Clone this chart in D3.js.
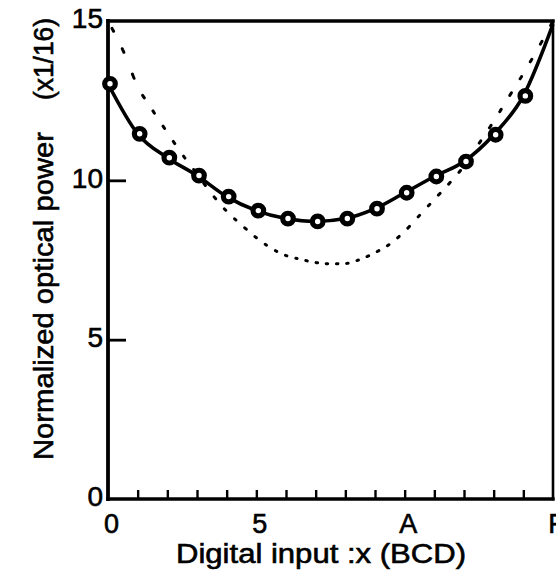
<!DOCTYPE html>
<html>
<head>
<meta charset="utf-8">
<script src="https://cdn.jsdelivr.net/npm/d3@7"></script>
<style>
  html, body { margin: 0; background: #fff; }
  svg { display: block; }
  text { font-family: "Liberation Sans", Arial, Helvetica, sans-serif; fill: #000; stroke: #000; stroke-width: 0.6px; }
</style>
</head>
<body>
<svg id="chart" width="556" height="571"></svg>
<script>
// Measured optical power (circles) for each digital input code 0..E
const inputCodes = [0, 1, 2, 3, 4, 5, 6, 7, 8, 9, 10, 11, 12, 13, 14];
const measuredPower = [13.03, 11.46, 10.71, 10.15, 9.49, 9.05, 8.80, 8.71, 8.80, 9.11, 9.61, 10.12, 10.59, 11.43, 12.65];

// Solid curve through the measurements, running up to code F
const fitCodes = [0, 1, 2, 3, 4, 5, 6, 7, 8, 9, 10, 11, 12, 13, 14, 15];
const fitPower = [13.03, 11.46, 10.71, 10.15, 9.49, 9.05, 8.80, 8.71, 8.80, 9.11, 9.61, 10.12, 10.59, 11.43, 12.65, 14.9];

// Dotted reference curve
const idealCodes = [0, 0.5, 1, 1.5, 2, 2.5, 3, 3.5, 4, 4.5, 5, 5.5, 6, 6.5, 7, 7.5, 8, 8.5, 9, 9.5, 10, 10.5, 11, 11.5, 12, 12.5, 13, 13.5, 14, 14.5, 15];
const idealPower = [15.0, 14.09, 12.95, 12.2, 11.5, 10.82, 10.2, 9.57, 9.03, 8.6, 8.2, 7.87, 7.64, 7.52, 7.42, 7.38, 7.39, 7.52, 7.73, 8.0, 8.4, 8.9, 9.4, 9.9, 10.45, 11.15, 11.85, 12.6, 13.35, 14.15, 15.0];

// Axis ticks
const xMinorTicks = [1, 2, 3, 4, 5, 6, 7, 8, 9, 10, 11, 12, 13, 14];
const xTickValues = [0, 5, 10, 15];
const xTickLabels = ["0", "5", "A", "F"];
const yMajorTicks = [5, 10];
const yTickValues = [0, 5, 10, 15];
const yTickLabels = ["0", "5", "10", "15"];

const xTitle = "Digital input :x (BCD)";
const yTitle = "Normalized optical power";
const yUnit = "(x1/16)";

const svg = d3.select("#chart");
const x = d3.scaleLinear().domain([0, 15]).range([108, 553]);
const y = d3.scaleLinear().domain([0, 15]).range([499, 21]);

// Inward tick marks
const gx = svg.append("g").attr("transform", `translate(0,${y(0)})`)
  .call(d3.axisBottom(x).tickValues(xMinorTicks).tickSize(-9).tickFormat(""));
gx.select(".domain").remove();
gx.selectAll(".tick line").attr("stroke", "#000").attr("stroke-width", 2.4);

const gy = svg.append("g").attr("transform", `translate(${x(0)},0)`)
  .call(d3.axisLeft(y).tickValues(yMajorTicks).tickSize(-18).tickFormat(""));
gy.select(".domain").remove();
gy.selectAll(".tick line").attr("stroke", "#000").attr("stroke-width", 2.8);

// Tick labels
const gxl = svg.append("g").attr("transform", `translate(3,${y(0) + 1})`)
  .call(d3.axisBottom(x).tickValues(xTickValues).tickSize(0).tickPadding(14)
    .tickFormat((d, i) => xTickLabels[i]));
gxl.select(".domain").remove();
gxl.selectAll("text").attr("font-size", 27).attr("font-family", null).attr("fill", null);

const gyl = svg.append("g").attr("transform", `translate(${x(0) - 5},-2)`)
  .call(d3.axisLeft(y).tickValues(yTickValues).tickSize(0).tickPadding(0)
    .tickFormat((d, i) => yTickLabels[i]));
gyl.select(".domain").remove();
gyl.selectAll("text").attr("font-size", 28).attr("font-family", null).attr("fill", null);

// Frame
const frame = svg.append("g").attr("stroke", "#000").attr("fill", "none").attr("stroke-linecap", "square");
frame.append("line").attr("x1", x(0)).attr("x2", x(15)).attr("y1", y(15)).attr("y2", y(15)).attr("stroke-width", 3.4);
frame.append("line").attr("x1", x(15)).attr("x2", x(15)).attr("y1", y(15)).attr("y2", y(0)).attr("stroke-width", 2.6);
frame.append("line").attr("x1", x(0)).attr("x2", x(15)).attr("y1", y(0)).attr("y2", y(0)).attr("stroke-width", 3.4);
frame.append("line").attr("x1", x(0)).attr("x2", x(0)).attr("y1", y(15)).attr("y2", y(0)).attr("stroke-width", 3.8);

// Dotted reference curve: dots spaced evenly along x, so they stretch into dashes where steep
const idealPts = idealCodes.map((c, i) => [c, idealPower[i]]);
const idealLine = d3.line().x(d => x(d[0])).y(d => y(d[1])).curve(d3.curveMonotoneX);
const guide = svg.append("path").attr("d", idealLine(idealPts)).attr("fill", "none").attr("stroke", "none");
const gnode = guide.node();
const total = gnode.getTotalLength();
const period = 10.2, onWidth = 1.7, phase0 = x(0) + 4.0;
const segs = [];
let cur = null;
for (let s = 0; s <= total; s += 0.3) {
  const p = gnode.getPointAtLength(s);
  const ph = (((p.x - phase0) % period) + period) % period;
  if (ph < onWidth) {
    if (!cur) { cur = []; segs.push(cur); }
    cur.push([p.x, p.y]);
  } else {
    cur = null;
  }
}
const segPath = segs.map(sg => {
  const pts = sg.length === 1 ? [sg[0], sg[0]] : sg;
  return "M" + pts.map(p => p[0].toFixed(2) + "," + p[1].toFixed(2)).join("L");
}).join("");
guide.remove();
svg.append("path").attr("d", segPath).attr("fill", "none").attr("stroke", "#000")
  .attr("stroke-width", 3).attr("stroke-linecap", "round");

// Solid curve
const fitPts = fitCodes.map((c, i) => [c, fitPower[i]]);
svg.append("path")
  .attr("d", d3.line().x(d => x(d[0])).y(d => y(d[1])).curve(d3.curveMonotoneX)(fitPts))
  .attr("fill", "none").attr("stroke", "#000").attr("stroke-width", 3.6);

// Measured points
svg.append("g").selectAll("circle")
  .data(inputCodes.map((c, i) => [c, measuredPower[i]]))
  .join("circle")
  .attr("cx", d => x(d[0]) + 2).attr("cy", d => y(d[1]))
  .attr("r", 5.3).attr("fill", "#fff").attr("stroke", "#000").attr("stroke-width", 5.2);

// Axis titles
svg.append("text").attr("x", 176).attr("y", 563).attr("font-size", 27)
  .attr("textLength", 290).attr("lengthAdjust", "spacingAndGlyphs").text(xTitle);

svg.append("text").attr("transform", "translate(53,460) rotate(-90)").attr("font-size", 27)
  .attr("textLength", 328).attr("lengthAdjust", "spacingAndGlyphs").text(yTitle);
svg.append("text").attr("transform", "translate(53,100) rotate(-90)").attr("font-size", 27)
  .attr("textLength", 82).attr("lengthAdjust", "spacingAndGlyphs").text(yUnit);
</script>
</body>
</html>
